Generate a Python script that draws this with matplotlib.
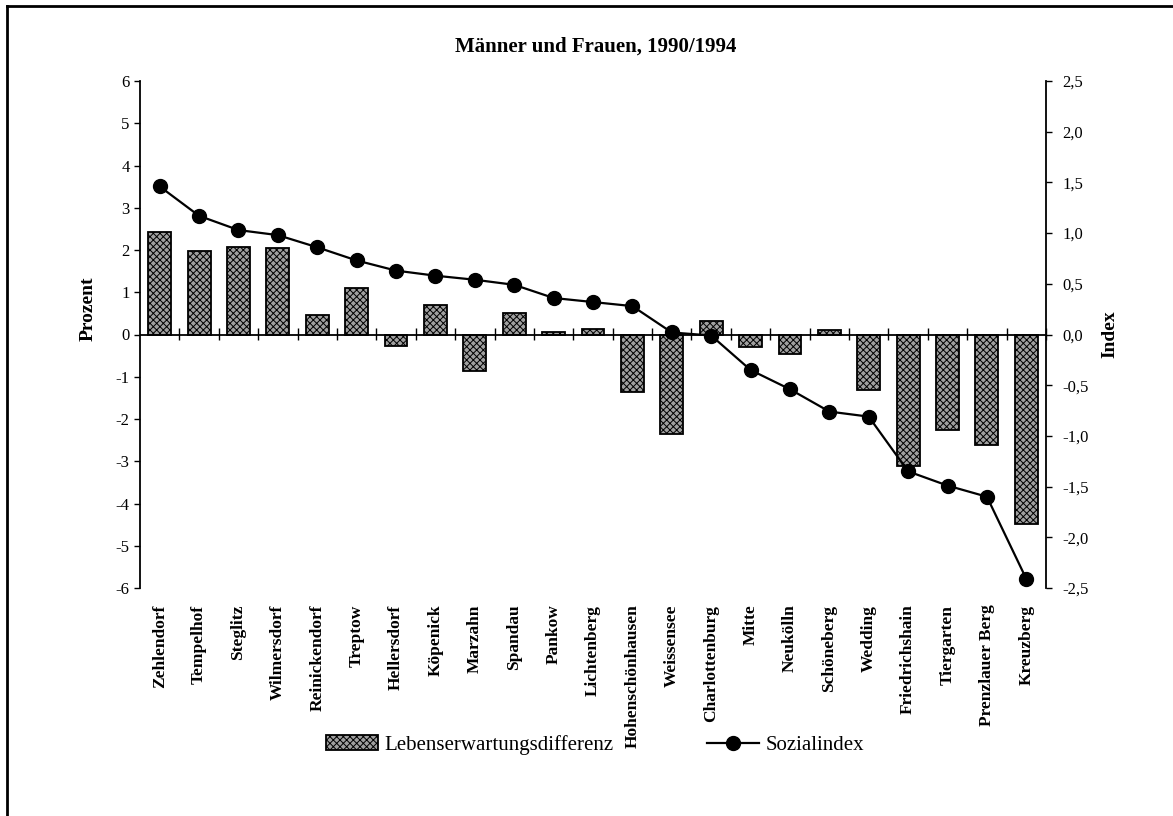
import matplotlib
matplotlib.use("Agg")
import matplotlib.pyplot as plt
from matplotlib.lines import Line2D
import numpy as np

districts = ["Zehlendorf", "Tempelhof", "Steglitz", "Wilmersdorf", "Reinickendorf",
             "Treptow", "Hellersdorf", "Köpenick", "Marzahn", "Spandau", "Pankow",
             "Lichtenberg", "Hohenschönhausen", "Weissensee", "Charlottenburg", "Mitte",
             "Neukölln", "Schöneberg", "Wedding", "Friedrichshain", "Tiergarten",
             "Prenzlauer Berg", "Kreuzberg"]
lebenserwartung = [2.42, 1.97, 2.08, 2.05, 0.45, 1.1, -0.28, 0.7, -0.86, 0.5, 0.05,
                   0.12, -1.36, -2.36, 0.33, -0.3, -0.45, 0.1, -1.32, -3.12, -2.27,
                   -2.62, -4.48]
sozialindex = [1.46, 1.17, 1.03, 0.98, 0.86, 0.73, 0.63, 0.58, 0.54, 0.49, 0.36,
               0.32, 0.28, 0.02, -0.01, -0.35, -0.54, -0.76, -0.81, -1.35, -1.49,
               -1.60, -2.41]
left_ticks = [6, 5, 4, 3, 2, 1, 0, -1, -2, -3, -4, -5, -6]
right_ticks = [2.5, 2.0, 1.5, 1.0, 0.5, 0.0, -0.5, -1.0, -1.5, -2.0, -2.5]
right_labels = ["2,5", "2,0", "1,5", "1,0", "0,5", "0,0", "-0,5", "-1,0", "-1,5", "-2,0", "-2,5"]

plt.rcParams['font.family'] = ['Liberation Serif', 'DejaVu Serif']
plt.rcParams['hatch.linewidth'] = 0.7

fig = plt.figure(figsize=(11.73, 8.16), dpi=100)
ax = fig.add_axes([140/1173, 1-588/816, (1046-140)/1173, (588-81)/816])

x = np.arange(len(districts))
ax.bar(x, lebenserwartung, width=0.58, facecolor='#a0a0a0', edgecolor='black',
       hatch='xxxxx', linewidth=1.3, label='Lebenserwartungsdifferenz', zorder=2)
ax.set_xlim(-0.5, len(districts) - 0.5)
ax.set_ylim(-6, 6)
ax.set_yticks(left_ticks)
ax.set_yticklabels([str(t) for t in left_ticks], fontsize=12)
ax.tick_params(axis='y', direction='out', length=4, width=1)
ax.set_xticks(x)
ax.set_xticklabels(districts, rotation=90, fontsize=12.5, fontweight='bold')
ax.tick_params(axis='x', length=0, pad=12)
for s in ['top', 'right', 'bottom']:
    ax.spines[s].set_visible(False)
ax.spines['left'].set_linewidth(1.3)
ax.axhline(0, color='black', linewidth=1.3, zorder=3)

# boundary ticks on zero line
sec = ax.secondary_xaxis(0.5)
sec.set_xticks(np.arange(len(districts)) + 0.5)
sec.set_xticklabels([])
sec.tick_params(direction='inout', length=9, width=1)
sec.spines['bottom'].set_visible(False)
sec.spines['top'].set_visible(False)

ax.set_ylabel('Prozent', fontsize=14, fontweight='bold')
ax.yaxis.set_label_coords(-0.048, 0.55)

ax2 = ax.twinx()
ax2.plot(x, sozialindex, color='black', linewidth=1.6, marker='o', markersize=10,
         label='Sozialindex', zorder=4)
ax2.set_ylim(-2.5, 2.5)
ax2.set_yticks(right_ticks)
ax2.set_yticklabels(right_labels, fontsize=12)
ax2.tick_params(axis='y', direction='out', length=4, width=1, pad=8)
for s in ['top', 'left', 'bottom']:
    ax2.spines[s].set_visible(False)
ax2.spines['right'].set_linewidth(1.3)
ax2.set_ylabel('Index', fontsize=14, fontweight='bold')
ax2.yaxis.set_label_coords(1.061, 0.5)

fig.text(596/1173, 1-47/816, 'Männer und Frauen, 1990/1994', ha='center', va='center',
         fontsize=15, fontweight='bold')

h1, l1 = ax.get_legend_handles_labels()
h2, l2 = ax2.get_legend_handles_labels()
fig.legend(h1 + h2, l1 + l2, loc='center', bbox_to_anchor=(595/1173, 1-745/816),
           ncol=2, frameon=False, fontsize=15, columnspacing=4.5, handlelength=2.5,
           handletextpad=0.3)

fig.add_artist(Line2D([7/1173, 7/1173], [0, 1-6/816], color='black', linewidth=2,
                      transform=fig.transFigure))
fig.add_artist(Line2D([7/1173, 1], [1-6/816, 1-6/816], color='black', linewidth=2,
                      transform=fig.transFigure))

fig.savefig('out.png', dpi=100)
